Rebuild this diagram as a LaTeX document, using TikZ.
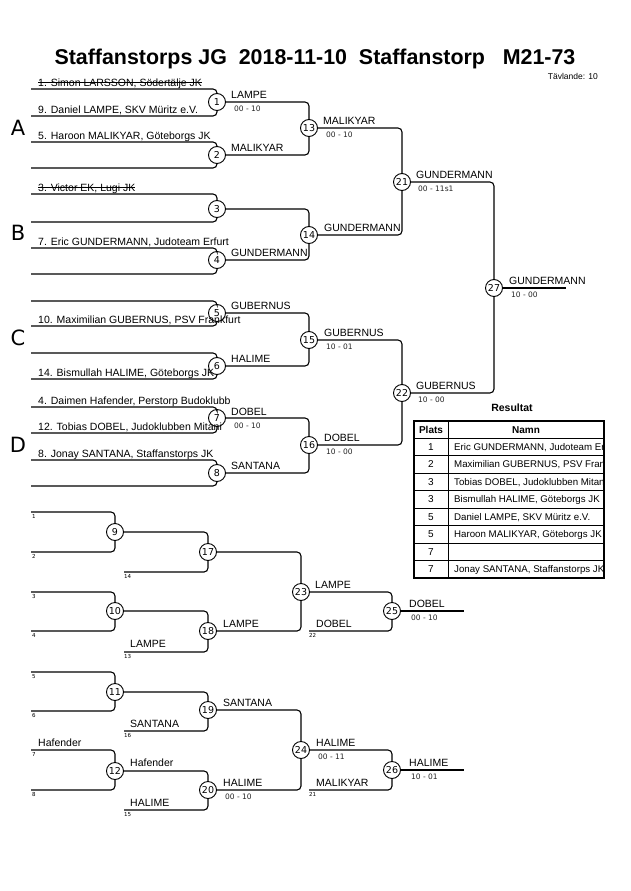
\documentclass[tikz,border=0pt]{standalone}
\usepackage{fontspec}
\setmainfont{Liberation Sans}
\newfontfamily\djv{DejaVu Sans}
\begin{document}
\begin{tikzpicture}[x=1pt,y=-1pt,
  br/.style={line width=1.1pt, rounded corners=4pt},
  mc/.style={circle,draw,fill=white,line width=0.9pt,minimum size=17pt,inner sep=0pt,font=\djv\fontsize{9.5}{10}\selectfont},
  nm/.style={anchor=base west,inner sep=0pt,font=\fontsize{10.5}{12}\selectfont},
  sc/.style={anchor=base west,inner sep=0pt,font=\djv\fontsize{7.5}{8}\selectfont,text=black!85},
  tn/.style={anchor=base west,inner sep=0pt,font=\djv\fontsize{5.5}{6}\selectfont},
  pool/.style={font=\djv\fontsize{21}{22}\selectfont,inner sep=0pt},
  strike/.style={line width=0.7pt},
  tb/.style={line width=0.8pt},
  td/.style={inner sep=0pt,anchor=base,font=\fontsize{10}{12}\selectfont},
  tdn/.style={inner sep=0pt,anchor=base west,font=\fontsize{9.7}{12}\selectfont},
]
\useasboundingbox (0,0) rectangle (630,891);

% title
\node[anchor=base,inner sep=0pt,font=\bfseries\fontsize{21.4}{24}\selectfont] (title) at (315,65) {Staffanstorps JG~ 2018-11-10~ Staffanstorp~~ M21-73};
\node[anchor=base east,inner sep=0pt,font=\fontsize{8.5}{10}\selectfont] (tv) at (598,79) {Tävlande: 10};

% circles
\foreach \n/\x/\y in {1/217/102,2/217/155,3/217/209,4/217/260,5/217/313,6/217/366,7/217/418,8/217/473,
  13/309/128,14/309/235,15/309/340,16/309/445,21/402/182,22/402/393,27/494/288,
  9/115/532,10/115/611,11/115/692,12/115/771,17/208/552,18/208/631,19/208/710,20/208/790,
  23/301/592,24/301/750,25/392/611,26/392/770}
  \node[mc] (c\n) at (\x,\y) {\n};

% first-round entries
\foreach \n/\t/\b in {1/89/116,2/142/168,3/194/222,4/248/274,5/301/326,6/353/379,7/407/433,8/460/486,
  9/512/552,10/592/631,11/672/711,12/750/790}{
  \coordinate (t\n) at (31,\t);
  \coordinate (b\n) at (31,\b);
  \draw[br] (t\n) -| (c\n.north);
  \draw[br] (b\n) -| (c\n.south);
}
% later rounds
\foreach \a/\b/\c in {1/2/13,3/4/14,5/6/15,7/8/16,13/14/21,15/16/22,21/22/27,17/18/23,19/20/24}{
  \draw[br] (c\a.east) -| (c\c.north);
  \draw[br] (c\b.east) -| (c\c.south);
}
% repechage second inputs
\foreach \a/\c/\x/\y in {9/17/124/572,10/18/124/652,11/19/124/731,12/20/124/810,23/25/309/631,24/26/309/790}{
  \draw[br] (c\a.east) -| (c\c.north);
  \coordinate (r\c) at (\x,\y);
  \draw[br] (r\c) -| (c\c.south);
}
\coordinate (e27) at (566,288);
\coordinate (e25) at (464,611);
\coordinate (e26) at (464,770);
\draw[br] (c27.east) -- (e27);
\draw[br] (c25.east) -- (e25);
\draw[br] (c26.east) -- (e26);

% pool letters
\node[pool] (pA) at (18,128) {A};
\node[pool] (pB) at (18,233) {B};
\node[pool] (pC) at (18,338) {C};
\node[pool] (pD) at (18,445) {D};

% competitor names
\node[nm] (s1) at (38,86) {1. Simon LARSSON, Södertälje JK};
\draw[strike] ([yshift=3.6pt]s1.base west) -- ([yshift=3.6pt]s1.base east);
\node[nm] (n9) at (38,113) {9. Daniel LAMPE, SKV Müritz e.V.};
\node[nm] (n5) at (38,139) {5. Haroon MALIKYAR, Göteborgs JK};
\node[nm] (s3) at (38,191) {3. Victor EK, Lugi JK};
\draw[strike] ([yshift=3.6pt]s3.base west) -- ([yshift=3.6pt]s3.base east);
\node[nm] (n7) at (38,245) {7. Eric GUNDERMANN, Judoteam Erfurt};
\node[nm] (n10) at (38,323) {10. Maximilian GUBERNUS, PSV Frankfurt};
\node[nm] (n14) at (38,376) {14. Bismullah HALIME, Göteborgs JK};
\node[nm] (n4) at (38,404) {4. Daimen Hafender, Perstorp Budoklubb};
\node[nm] (n12) at (38,430) {12. Tobias DOBEL, Judoklubben Mitani};
\node[nm] (n8) at (38,457) {8. Jonay SANTANA, Staffanstorps JK};

% winners main bracket
\node[nm] (w1) at (231,98) {LAMPE};
\node[sc] (k1) at (234,111) {00 - 10};
\node[nm] (w2) at (231,151) {MALIKYAR};
\node[nm] (w4) at (231,256) {GUNDERMANN};
\node[nm] (w5) at (231,309) {GUBERNUS};
\node[nm] (w6) at (231,362) {HALIME};
\node[nm] (w7) at (231,415) {DOBEL};
\node[sc] (k7) at (234,428) {00 - 10};
\node[nm] (w8) at (231,469) {SANTANA};
\node[nm] (w13) at (323,124) {MALIKYAR};
\node[sc] (k13) at (326,137) {00 - 10};
\node[nm] (w14) at (324,231) {GUNDERMANN};
\node[nm] (w15) at (324,336) {GUBERNUS};
\node[sc] (k15) at (326,349) {10 - 01};
\node[nm] (w16) at (324,441) {DOBEL};
\node[sc] (k16) at (326,454) {10 - 00};
\node[nm] (w21) at (416,178) {GUNDERMANN};
\node[sc] (k21) at (418,191) {00 - 11s1};
\node[nm] (w22) at (416,389) {GUBERNUS};
\node[sc] (k22) at (418,402) {10 - 00};
\node[nm] (w27) at (509,284) {GUNDERMANN};
\node[sc] (k27) at (511,297) {10 - 00};

% repechage labels
\foreach \x/\y/\t [count=\i] in {32/518/1,32/558/2,32/598/3,32/637/4,32/678/5,32/717/6,32/756/7,32/796/8,
  124/578/14,124/658/13,124/737/16,124/816/15,309/637/22,309/796/21}
  \node[tn] (tl\i) at (\x,\y) {\t};
\node[nm] (x1) at (130,647) {LAMPE};
\node[nm] (x2) at (223,627) {LAMPE};
\node[nm] (x3) at (315,588) {LAMPE};
\node[nm] (x4) at (316,627) {DOBEL};
\node[nm] (x5) at (409,607) {DOBEL};
\node[sc] (y5) at (411,620) {00 - 10};
\node[nm] (x6) at (130,727) {SANTANA};
\node[nm] (x7) at (223,706) {SANTANA};
\node[nm] (x8) at (38,746) {Hafender};
\node[nm] (x9) at (130,766) {Hafender};
\node[nm] (x10) at (130,806) {HALIME};
\node[nm] (x11) at (223,786) {HALIME};
\node[sc] (y11) at (225,799) {00 - 10};
\node[nm] (x12) at (316,746) {HALIME};
\node[sc] (y12) at (318,759) {00 - 11};
\node[nm] (x13) at (316,786) {MALIKYAR};
\node[nm] (x14) at (409,766) {HALIME};
\node[sc] (y14) at (411,779) {10 - 01};

% results table
\node[inner sep=0pt,font=\bfseries\fontsize{10.5}{12}\selectfont] (res) at (512,408) {Resultat};
\foreach \i in {1,...,8} \draw[tb] (414,{438+(\i-1)*17.5}) -- (604,{438+(\i-1)*17.5});
\draw[tb] (448,421) -- (448,578);
\draw[line width=1.7pt] (414,421) rectangle (604,578);
\node[td,font=\bfseries\fontsize{10}{12}\selectfont] (hp) at (431,433) {Plats};
\node[td,font=\bfseries\fontsize{10}{12}\selectfont] (hn) at (526,433) {Namn};
\foreach \p [count=\i] in {1,2,3,3,5,5,7,7}
  \node[td] (rp\i) at (431,{438+(\i-0.5)*17.5+3.6}) {\p};
\begin{scope}
  \clip (449,421) rectangle (603,578);
  \node[tdn] (rn1) at (454,450.35) {Eric GUNDERMANN, Judoteam Erfurt};
  \node[tdn] (rn2) at (454,467.85) {Maximilian GUBERNUS, PSV Frankfurt};
  \node[tdn] (rn3) at (454,485.35) {Tobias DOBEL, Judoklubben Mitani};
  \node[tdn] (rn4) at (454,502.85) {Bismullah HALIME, Göteborgs JK};
  \node[tdn] (rn5) at (454,520.35) {Daniel LAMPE, SKV Müritz e.V.};
  \node[tdn] (rn6) at (454,537.85) {Haroon MALIKYAR, Göteborgs JK};
  \node[tdn] (rn8) at (454,572.85) {Jonay SANTANA, Staffanstorps JK};
\end{scope}
\end{tikzpicture}
\end{document}
